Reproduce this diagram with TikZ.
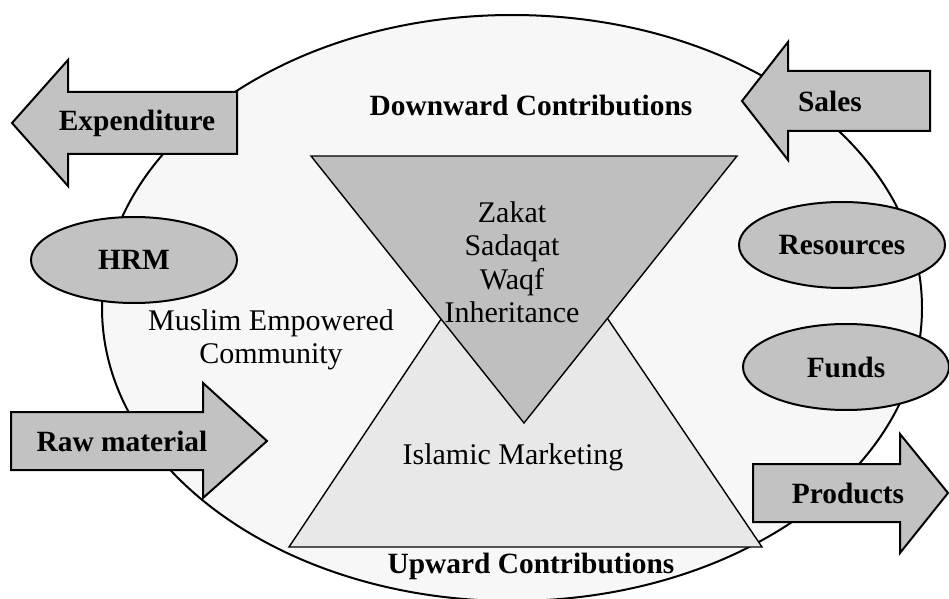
\documentclass[tikz,border=0pt]{standalone}
\usepackage{fontspec}
\setmainfont{Liberation Serif}
\usetikzlibrary{shapes.geometric}

\begin{document}
\begin{tikzpicture}[x=0.5pt,y=-0.5pt]
            \tikzset{blob/.style = {shape=ellipse, draw, line width=1pt, fill=black!24, minimum width=103pt, minimum height=43pt, font=\bfseries\fontsize{14.7}{17}\selectfont}}
            \tikzset{flow/.style = {draw, line width=1pt, fill=black!24}}
            \tikzset{lbl/.style = {font=\bfseries\fontsize{14.7}{17}\selectfont}}
            \tikzset{txt/.style = {align=center, font=\fontsize{15}{16.75}\selectfont}}
            \useasboundingbox (0,0) rectangle (949,599);
            % community
            \draw[line width=1pt, fill=black!3] (512,308) ellipse [x radius=205pt, y radius=146.5pt];
            % triangles
            \draw[line width=0.7pt, fill=black!9] (289,547) -- (524,195) -- (762,547) -- cycle;
            \draw[line width=0.7pt, fill=black!25] (311,156) -- (737,156) -- (524,423) -- cycle;
            % arrows
            \draw[flow] (237,92) -- (68,92) -- (68,60) -- (12,123) -- (68,186) -- (68,154) -- (237,154) -- cycle;
            \draw[flow] (930,71) -- (788,71) -- (788,42) -- (742,101) -- (788,160) -- (788,131) -- (930,131) -- cycle;
            \draw[flow] (11,412) -- (203,412) -- (203,383) -- (267,441) -- (203,498) -- (203,470) -- (11,470) -- cycle;
            \draw[flow] (753,464) -- (900,464) -- (900,434) -- (948,493) -- (900,553) -- (900,522) -- (753,522) -- cycle;
            % labels
            \node[lbl] (expend) at (137,123) {Expenditure};
            \node[lbl] (sales) at (830,101) {Sales};
            \node[lbl] (raw) at (122,441) {Raw material};
            \node[lbl] (prod) at (848,493) {Products};
            \node[lbl] (down) at (531,105) {Downward Contributions};
            \node[lbl] (up) at (531,566) {Upward Contributions};
            % ellipses
            \node[blob] (hrm) at (134,260) {HRM};
            \node[blob] (res) at (842,245) {Resources};
            \node[blob] (funds) at (846,367) {Funds};
            % texts
            \node[txt] (zakat) at (512,262) {Zakat\\Sadaqat\\Waqf\\Inheritance};
            \node[txt] (muslim) at (271,340) {Muslim Empowered\\Community};
            \node[txt] (market) at (513,457) {Islamic Marketing};
        \end{tikzpicture}
\end{document}
